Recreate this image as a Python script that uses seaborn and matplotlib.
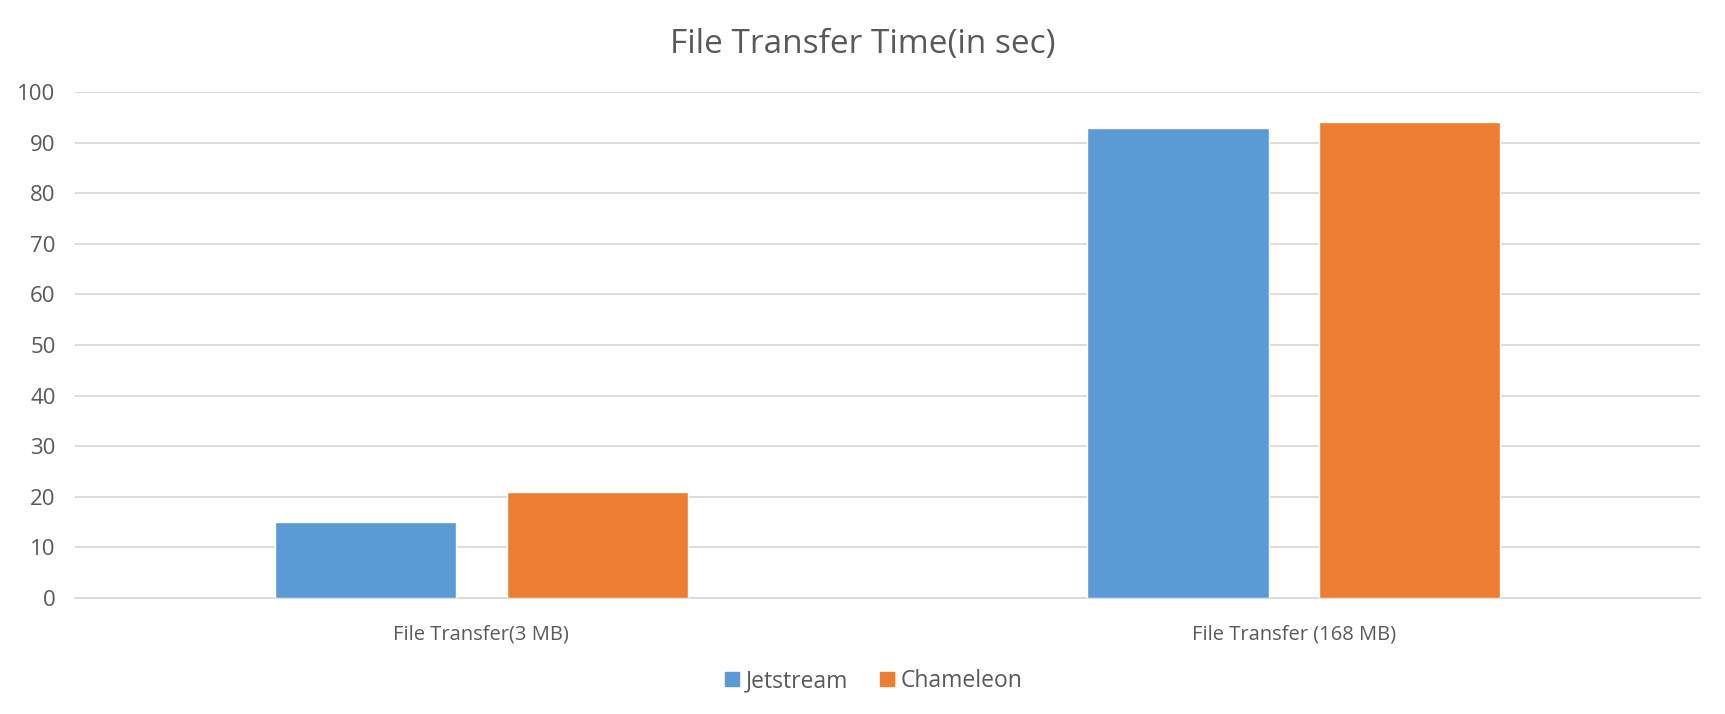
import numpy as np
import pandas as pd
import matplotlib.pyplot as plt
import seaborn as sns

# --------------chart values--------------
categories = ['File Transfer(3 MB)', 'File Transfer (168 MB)']
jetstream = [15, 93]
chameleon = [21, 94]
series_names = ['Jetstream', 'Chameleon']

palette = {'Jetstream': '#5B9BD5', 'Chameleon': '#ED7D31'}
text_col = '#595959'
grid_col = '#D9D9D9'

df = pd.DataFrame({
    'category': categories * 2,
    'series': [series_names[0]] * 2 + [series_names[1]] * 2,
    'time': jetstream + chameleon,
})

sns.set_style('white')
plt.rcParams['font.family'] = ['Open Sans', 'DejaVu Sans']

fig, ax = plt.subplots(figsize=(17.25, 7.14), dpi=100)
fig.subplots_adjust(left=0.0435, right=0.9855, bottom=0.1625, top=0.871)

sns.barplot(data=df, x='category', y='time', hue='series', order=categories,
            hue_order=series_names, palette=palette, width=0.57, gap=0.218,
            saturation=1, ax=ax, zorder=3)

ax.set_xlim(-0.5, 1.5)
ax.set_ylim(0, 100)
ax.set_yticks(np.arange(0, 101, 10))
ax.grid(axis='y', color=grid_col, linewidth=1.3, zorder=0)
ax.set_axisbelow(True)
for s in ['top', 'right', 'left']:
    ax.spines[s].set_visible(False)
ax.spines['bottom'].set_color(grid_col)
ax.spines['bottom'].set_linewidth(1.3)
ax.tick_params(axis='both', length=0, colors=text_col)
ax.tick_params(axis='y', pad=14, labelsize=16)
ax.tick_params(axis='x', pad=19, labelsize=14.5)
ax.set_xlabel('')
ax.set_ylabel('')
fig.suptitle('File Transfer Time(in sec)', fontsize=24, color=text_col,
             x=0.5, y=0.938, va='center')

handles = [plt.Line2D([], [], marker='s', linestyle='', markersize=10,
                      color=palette[n]) for n in series_names]
ax.legend(handles, series_names, loc='center', bbox_to_anchor=(0.49, -0.165),
          ncol=2, frameon=False, fontsize=16.5, labelcolor=text_col,
          handletextpad=0.1, columnspacing=1.2, handlelength=1.0)

fig.savefig('out.png', dpi=100)
